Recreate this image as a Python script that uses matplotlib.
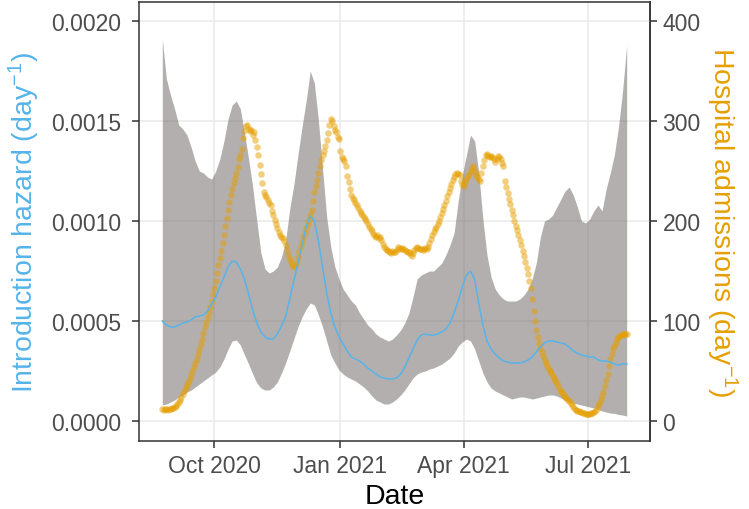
import numpy as np
import matplotlib
matplotlib.use('Agg')
import matplotlib.pyplot as plt
import matplotlib.dates as mdates

plt.rcParams['font.family'] = ['Liberation Sans', 'DejaVu Sans']
plt.rcParams['mathtext.fontset'] = 'custom'
plt.rcParams['mathtext.rm'] = 'Liberation Sans'
plt.rcParams['mathtext.it'] = 'Liberation Sans:italic'

# introduction hazard, units of 1e-4 per day, every 3 days from 24 Aug 2020
haz_upper = [19.1, 17.1, 16.3, 15.6, 14.8, 14.6, 14.3, 13.7, 13.0, 12.5,
             12.4, 12.2, 12.1, 12.5, 13.1, 14.0, 15.1, 15.8, 16.0, 15.6,
             14.4, 13.1, 11.7, 10.0, 8.4, 7.6, 7.4, 7.5, 7.7, 8.2,
             9.0, 10.6, 11.8, 13.3, 14.7, 16.0, 17.5, 16.9, 15.0, 12.6,
             10.2, 8.7, 7.7, 7.1, 6.6, 6.3, 6.0, 5.8, 5.4, 5.1,
             4.8, 4.6, 4.35, 4.2, 4.1, 4.0, 4.1, 4.3, 4.55, 4.9,
             5.4, 6.2, 7.1, 7.3, 7.4, 7.5, 7.5, 7.7, 7.9, 8.3,
             8.8, 9.4, 11.0, 12.3, 13.3, 14.3, 14.0, 12.4, 10.1, 8.3,
             7.2, 6.6, 6.3, 6.1, 6.0, 6.0, 6.0, 6.1, 6.3, 6.6,
             7.1, 7.9, 9.2, 10.0, 10.1, 10.3, 10.7, 11.1, 11.5, 11.7,
             11.3, 10.7, 10.0, 9.9, 10.1, 10.5, 10.8, 10.5, 11.6, 12.4,
             13.3, 14.7, 16.5, 18.8]
haz_lower = [0.8, 0.85, 0.95, 1.05, 1.2, 1.3, 1.45, 1.55, 1.7, 1.85,
             2.0, 2.15, 2.3, 2.45, 2.7, 3.1, 3.6, 4.0, 4.05, 3.8,
             3.3, 2.85, 2.35, 1.9, 1.65, 1.55, 1.55, 1.7, 1.95, 2.4,
             2.9, 3.5, 4.1, 4.7, 5.2, 5.6, 5.9, 5.8, 5.3, 4.7,
             4.0, 3.3, 2.9, 2.55, 2.35, 2.2, 2.1, 2.0, 1.85, 1.7,
             1.5, 1.25, 1.05, 0.95, 0.85, 0.85, 0.95, 1.1, 1.3, 1.55,
             1.85, 2.15, 2.35, 2.45, 2.5, 2.6, 2.65, 2.75, 2.85, 3.0,
             3.15, 3.4, 3.75, 3.95, 4.1, 4.0, 3.6, 3.0, 2.4, 1.95,
             1.65, 1.5, 1.4, 1.3, 1.2, 1.1, 1.15, 1.2, 1.2, 1.15,
             1.1, 1.15, 1.2, 1.25, 1.3, 1.3, 1.25, 1.15, 1.05, 0.95,
             0.9, 0.85, 0.8, 0.75, 0.7, 0.65, 0.6, 0.5, 0.45, 0.4,
             0.38, 0.33, 0.3, 0.25]
haz_mean = [5.0, 4.8, 4.7, 4.7, 4.8, 4.9, 4.95, 5.05, 5.2, 5.25,
            5.3, 5.5, 5.85, 6.2, 6.7, 7.2, 7.7, 8.0, 7.95, 7.6,
            7.1, 6.35, 5.55, 4.9, 4.45, 4.2, 4.1, 4.1, 4.35, 4.75,
            5.2, 6.1, 7.0, 7.9, 8.8, 9.7, 10.25, 10.0, 9.0, 7.7,
            6.4, 5.4, 4.7, 4.2, 3.85, 3.5, 3.2, 3.1, 3.0, 2.85,
            2.65, 2.5, 2.35, 2.2, 2.15, 2.1, 2.1, 2.15, 2.35, 2.7,
            3.15, 3.6, 4.05, 4.3, 4.35, 4.3, 4.3, 4.35, 4.45, 4.6,
            4.9, 5.4, 6.0, 6.7, 7.3, 7.5, 7.1, 5.9, 4.8, 4.0,
            3.6, 3.35, 3.15, 3.0, 2.95, 2.9, 2.9, 2.9, 2.95, 3.05,
            3.2, 3.45, 3.7, 3.9, 4.0, 4.0, 3.95, 3.9, 3.85, 3.7,
            3.5, 3.4, 3.3, 3.25, 3.2, 3.2, 3.05, 3.0, 3.0, 2.95,
            2.85, 2.8, 2.85, 2.85]

# daily hospital admissions from 24 Aug 2020
admissions = [12, 11, 12, 12, 11, 12, 12, 13, 13, 14,
              15, 17, 19, 21, 24, 27, 30, 33, 36, 39,
              42, 46, 50, 54, 58, 62, 67, 72, 77, 82,
              88, 94, 99, 104, 109, 114, 120, 127, 133, 140,
              148, 156, 163, 170, 178, 186, 195, 203, 211, 219,
              226, 232, 238, 243, 248, 254, 262, 266, 272, 283,
              290, 295, 296, 292, 290, 291, 286, 289, 281, 274,
              266, 256, 247, 238, 229, 226, 224, 221, 218, 216,
              210, 206, 201, 197, 193, 189, 186, 184, 183, 180,
              176, 171, 166, 162, 159, 156, 154, 155, 159, 164,
              170, 175, 179, 184, 188, 193, 197, 201, 206, 211,
              220, 229, 235, 241, 248, 255, 261, 266, 270, 275,
              281, 288, 296, 302, 300, 295, 291, 289, 284, 282,
              270, 264, 262, 260, 255, 245, 239, 232, 226, 223,
              221, 218, 216, 213, 210, 208, 206, 204, 202, 200,
              197, 194, 192, 190, 187, 185, 184, 186, 183, 184,
              181, 177, 174, 172, 171, 170, 169, 168, 170, 169,
              169, 171, 174, 173, 172, 173, 172, 171, 170, 169,
              169, 167, 165, 168, 171, 173, 174, 173, 172, 172,
              171, 172, 173, 172, 174, 178, 182, 186, 189, 192,
              194, 197, 200, 204, 208, 212, 216, 220, 225, 229,
              233, 237, 241, 244, 247, 248, 247, 246, 240, 236,
              235, 239, 242, 245, 247, 250, 253, 255, 250, 246,
              244, 242, 240, 248, 255, 261, 266, 267, 265, 264,
              265, 264, 262, 259, 262, 265, 264, 262, 258, 255,
              240, 234, 228, 222, 217, 211, 206, 200, 195, 191,
              186, 181, 176, 170, 165, 159, 153, 147, 140, 133,
              122, 110, 100, 91, 84, 78, 73, 69, 65, 61,
              58, 55, 52, 50, 48, 45, 43, 40, 38, 35,
              31, 30, 28, 26, 24, 23, 21, 20, 18, 16,
              14, 12, 11, 10, 10, 9, 9, 8, 8, 7,
              7, 7, 7, 8, 8, 9, 10, 12, 15, 18,
              21, 25, 29, 35, 41, 47, 55, 62, 67, 72,
              75, 78, 82, 84, 85, 86, 87, 87, 87, 87]

start = np.datetime64('2020-08-24')
haz_dates = start + np.arange(len(haz_mean)) * 3
adm_dates = start + np.arange(len(admissions))
scale = 2e5  # admissions per unit hazard (secondary axis)

blue = '#56B4E9'
orange = '#E69F00'

fig = plt.figure(figsize=(7.49, 5.10), dpi=100)
ax = fig.add_axes([0.1856, 0.1333, 0.6822, 0.8608])

ax.fill_between(haz_dates, np.array(haz_lower) * 1e-4, np.array(haz_upper) * 1e-4,
                color=(105/255, 97/255, 97/255), alpha=0.5, linewidth=0, zorder=2)
ax.scatter(adm_dates, np.array(admissions) / scale, s=22, color=orange,
           alpha=0.5, linewidths=0, zorder=3)
ax.plot(haz_dates, np.array(haz_mean) * 1e-4, color=blue, lw=1.1, zorder=4)

# axes limits like ggplot expansion
pad = np.timedelta64(17, 'D')
ax.set_xlim(mdates.date2num(haz_dates[0] - pad), mdates.date2num(haz_dates[-1] + pad))
ax.set_ylim(-0.0001, 0.002095)

yt = [0, 0.0005, 0.001, 0.0015, 0.002]
ax.set_yticks(yt)
ax.set_yticklabels(['%.4f' % v for v in yt])
xt = [np.datetime64('2020-10-01'), np.datetime64('2021-01-01'),
      np.datetime64('2021-04-01'), np.datetime64('2021-07-01')]
ax.set_xticks([mdates.date2num(t) for t in xt])
ax.set_xticklabels(['Oct 2020', 'Jan 2021', 'Apr 2021', 'Jul 2021'])

sec = ax.secondary_yaxis('right', functions=(lambda h: h * scale, lambda a: a / scale))
sec.set_yticks([0, 100, 200, 300, 400])

ax.grid(True, color='#EBEBEB', lw=1.2, zorder=0)
ax.set_axisbelow(True)
for a in (ax, sec):
    a.tick_params(length=5, width=1.1, color='#333333', labelcolor='#4D4D4D',
                  labelsize=16.5)
    for sp in a.spines.values():
        sp.set_color('#333333')
        sp.set_linewidth(1.1)
ax.tick_params(axis='y', pad=8)
ax.tick_params(axis='x', pad=4.5)
sec.tick_params(axis='y', pad=4)

ax.set_xlabel('Date', fontsize=20.5, labelpad=4)
ax.set_ylabel('Introduction hazard (day$^{-1}$)', fontsize=20.5, color=blue, labelpad=6.5)
sec.set_ylabel('Hospital admissions (day$^{-1}$)', fontsize=20.5, color=orange,
               rotation=270, labelpad=28)

fig.savefig('out.png', dpi=100)
